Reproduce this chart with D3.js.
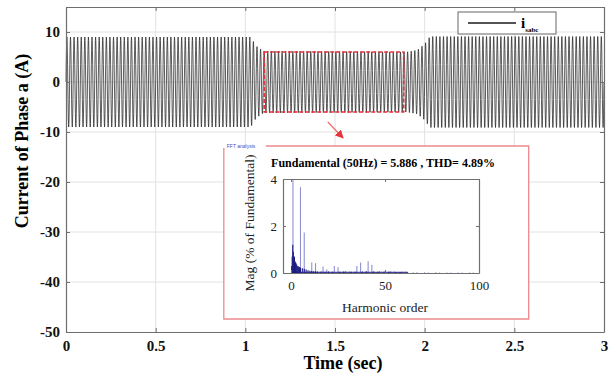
<!DOCTYPE html>
<html>
<head>
<meta charset="utf-8">
<script src="https://cdn.jsdelivr.net/npm/d3@7"></script>
<style>
  body { margin: 0; background: #fff; }
  svg { display: block; }
  text { font-family: "Liberation Serif", "Times New Roman", serif; }
</style>
</head>
<body>
<div id="chart"></div>
<script>
// main waveform: 50 Hz current, envelope
const fundamentalHz = 50;
const envTime = [0, 1.03, 1.06, 1.10, 1.90, 1.96, 2.00, 2.03, 3];
const envAmp  = [9, 9, 7.2, 6.2, 6.0, 6.4, 7.6, 9.1, 9.1];
const xTicks = [0, 0.5, 1, 1.5, 2, 2.5, 3];
const yTicks = [-50, -40, -30, -20, -10, 0, 10];

// FFT inset
const harmOrders = [1, 5, 7, 11, 13, 17, 19, 23, 25, 29, 31, 35, 37, 41, 43, 47, 49, 53, 55, 59, 61, 65, 67, 71, 73, 77, 79, 83, 85, 89, 91, 95, 97];
const harmMag    = [100, 3.65, 1.72, 0.45, 0.42, 0.28, 0.15, 0.3, 0.25, 0.08, 0.06, 0.3, 0.45, 0.5, 0.35, 0.08, 0.05, 0.07, 0.06, 0.05, 0.05, 0.03, 0.03, 0.03, 0.02, 0.03, 0.02, 0.02, 0.02, 0.02, 0.02, 0.02, 0.02];
const interOrders = [0.3, 0.6, 0.9, 1.2, 1.5, 1.8, 2.1, 2.4, 2.7, 3, 3.5, 4, 4.5, 5, 6, 7, 8, 9, 10, 11, 12, 13, 14, 16, 18, 20, 22, 26, 28, 32, 34, 38, 40, 44, 46, 50, 52, 56, 58, 62];
const interMag    = [0.3, 0.7, 1.2, 0.9, 0.6, 0.7, 0.5, 0.45, 0.4, 0.35, 0.3, 0.28, 0.25, 0.22, 0.2, 0.18, 0.15, 0.12, 0.1, 0.08, 0.07, 0.07, 0.06, 0.06, 0.05, 0.06, 0.05, 0.05, 0.06, 0.05, 0.05, 0.06, 0.07, 0.06, 0.05, 0.06, 0.05, 0.04, 0.04, 0.03];
const fftXTicks = [0, 50, 100];
const fftYTicks = [0, 2, 4];
const fftTitle = 'Fundamental (50Hz) = 5.886 , THD= 4.89%';

const W = 610, H = 379;
const margin = { top: 7, right: 6, bottom: 47, left: 66 };
const innerW = W - margin.left - margin.right;
const innerH = H - margin.top - margin.bottom;
const plain = d => String(d);   // keep ASCII hyphen like the original figure

const svg = d3.select('#chart').append('svg')
  .attr('width', W)
  .attr('height', H);

const g = svg.append('g')
  .attr('transform', `translate(${margin.left},${margin.top})`);

const x = d3.scaleLinear().domain([0, 3]).range([0, innerW]);
const y = d3.scaleLinear().domain([-50, 15]).range([innerH, 0]);

// gridlines
const grid = g.append('g').classed('gridlines', true);
grid.selectAll('line.gx').data(xTicks.slice(1, -1)).join('line')
  .attr('x1', d => x(d)).attr('x2', d => x(d))
  .attr('y1', 0).attr('y2', innerH)
  .style('stroke', '#e2e2e2').style('stroke-width', 1);
grid.selectAll('line.gy').data(yTicks.slice(1)).join('line')
  .attr('x1', 0).attr('x2', innerW)
  .attr('y1', d => y(d)).attr('y2', d => y(d))
  .style('stroke', '#e2e2e2').style('stroke-width', 1);

// waveform
const env = d3.scaleLinear().domain(envTime).range(envAmp);
const stepsPerCycle = 16;
const nPts = Math.round(3 * fundamentalHz * stepsPerCycle);
const wave = d3.range(nPts + 1).map(i => {
  const t = i * 3 / nPts;
  return [t, env(t) * Math.sin(2 * Math.PI * fundamentalHz * t)];
});
const lineFn = d3.line().x(d => x(d[0])).y(d => y(d[1]));
g.append('path')
  .datum(wave)
  .attr('d', lineFn)
  .style('fill', 'none')
  .style('stroke', '#262626')
  .style('stroke-width', 0.75);

// red dashed selection
g.append('rect')
  .attr('x', x(1.105)).attr('y', y(6))
  .attr('width', x(1.883) - x(1.105)).attr('height', y(-6) - y(6))
  .style('fill', 'none')
  .style('stroke', '#e8323c')
  .style('stroke-width', 1.6)
  .style('stroke-dasharray', '4,2');

// arrow
svg.append('defs').append('marker')
  .attr('id', 'ah').attr('viewBox', '0 0 10 10')
  .attr('refX', 9).attr('refY', 5)
  .attr('markerWidth', 7).attr('markerHeight', 7)
  .attr('orient', 'auto')
  .append('path').attr('d', 'M0,0 L10,5 L0,10 z').style('fill', '#e8323c');
g.append('line')
  .attr('x1', x(1.46)).attr('y1', y(-8))
  .attr('x2', x(1.545)).attr('y2', y(-11.2))
  .style('stroke', '#ef6a70').style('stroke-width', 1.2)
  .attr('marker-end', 'url(#ah)');

// axes (box with inward ticks)
const axColor = '#6e6e6e';
const axisB = d3.axisBottom(x).tickValues(xTicks).tickSizeInner(-4).tickSizeOuter(0).tickFormat(plain);
const axisL = d3.axisLeft(y).tickValues(yTicks).tickSizeInner(-4).tickSizeOuter(0).tickFormat(plain);
const axisT = d3.axisTop(x).tickValues(xTicks).tickSizeInner(-4).tickSizeOuter(0).tickFormat('');
const axisR = d3.axisRight(y).tickValues(yTicks).tickSizeInner(-4).tickSizeOuter(0).tickFormat('');

function styleAxis(sel) {
  sel.select('.domain').style('stroke', axColor).style('stroke-width', 1.2);
  sel.selectAll('.tick line').style('stroke', axColor);
  sel.selectAll('.tick text')
    .style('font-family', '"Liberation Serif", serif')
    .style('font-weight', 'bold')
    .style('font-size', '15px')
    .style('fill', '#111');
}

g.append('g').attr('transform', `translate(0,${innerH})`).call(axisB).call(styleAxis)
  .selectAll('.tick text').attr('dy', '1.05em');
g.append('g').call(axisL).call(styleAxis)
  .selectAll('.tick text').attr('x', -6);
g.append('g').call(axisT).call(styleAxis);
g.append('g').attr('transform', `translate(${innerW},0)`).call(axisR).call(styleAxis);

// axis labels
svg.append('text')
  .attr('x', 343).attr('y', 369)
  .attr('text-anchor', 'middle')
  .style('font-weight', 'bold').style('font-size', '18px')
  .text('Time (sec)');
svg.append('text')
  .attr('transform', 'translate(28,141) rotate(-90)')
  .attr('text-anchor', 'middle')
  .style('font-weight', 'bold').style('font-size', '18px')
  .text('Current of Phase a (A)');

// legend
const leg = svg.append('g').attr('transform', 'translate(458,12)');
leg.append('rect').attr('width', 98).attr('height', 22)
  .style('fill', '#fff').style('stroke', '#666').style('stroke-width', 1);
leg.append('line').attr('x1', 10).attr('x2', 58).attr('y1', 11).attr('y2', 11)
  .style('stroke', '#1a1a1a').style('stroke-width', 1.5);
const legText = leg.append('text').attr('x', 63).attr('y', 16)
  .style('font-weight', 'bold').style('font-size', '15px');
legText.append('tspan').text('i');
legText.append('tspan').attr('dy', 4).style('font-size', '7px').text('sabc');

// ---------- FFT inset ----------
const box = { x0: x(0.88), x1: x(2.58), y0: y(-12.8), y1: y(-47.4) };
const inset = g.append('g').classed('fft-inset', true);
inset.append('rect')
  .attr('x', box.x0).attr('y', box.y0)
  .attr('width', box.x1 - box.x0).attr('height', box.y1 - box.y0)
  .style('fill', '#fff').style('stroke', 'none');
// red frame (top edge broken by caption)
const frameColor = '#ec8a8f';
inset.append('path')
  .attr('d', `M${box.x0 + 42},${box.y0} H${box.x1} V${box.y1} H${box.x0} V${box.y0 + 2}`)
  .style('fill', 'none').style('stroke', frameColor).style('stroke-width', 1.3);
inset.append('text')
  .attr('x', box.x0 + 3).attr('y', box.y0 + 2)
  .style('font-family', 'Arial, sans-serif').style('font-size', '5px').style('fill', '#3b4fc8')
  .text('FFT analysis');

const fx = d3.scaleLinear().domain([-4.3, 100]).range([283 - margin.left, 479 - margin.left]);
const fy = d3.scaleLinear().domain([0, 4]).range([273 - margin.top, 179 - margin.top]);

inset.append('text')
  .attr('x', 383 - margin.left).attr('y', 167 - margin.top)
  .attr('text-anchor', 'middle')
  .style('font-weight', 'bold').style('font-size', '12px')
  .text(fftTitle);

inset.append('clipPath').attr('id', 'fftclip')
  .append('rect')
  .attr('x', fx.range()[0]).attr('y', fy.range()[1])
  .attr('width', fx.range()[1] - fx.range()[0]).attr('height', fy.range()[0] - fy.range()[1]);

const bars = inset.append('g').attr('clip-path', 'url(#fftclip)');
bars.selectAll('line.h').data(harmOrders.map((o, i) => [o, harmMag[i]])).join('line')
  .attr('x1', d => fx(d[0])).attr('x2', d => fx(d[0]))
  .attr('y1', fy(0)).attr('y2', d => fy(d[1]))
  .style('stroke', '#8f8fd6').style('stroke-width', 1.1);
bars.selectAll('line.ih').data(interOrders.map((o, i) => [o, interMag[i]])).join('line')
  .attr('x1', d => fx(d[0])).attr('x2', d => fx(d[0]))
  .attr('y1', fy(0)).attr('y2', d => fy(d[1]))
  .style('stroke', '#1c1c82').style('stroke-width', 1.1);
bars.append('line')
  .attr('x1', fx(0)).attr('x2', fx(62)).attr('y1', fy(0.03)).attr('y2', fy(0.03))
  .style('stroke', '#1c1c82').style('stroke-width', 1);

const fAx = '#707070';
function styleFft(sel) {
  sel.select('.domain').style('stroke', fAx).style('stroke-width', 1.2);
  sel.selectAll('.tick line').style('stroke', fAx);
  sel.selectAll('.tick text')
    .style('font-family', '"Liberation Serif", serif')
    .style('font-size', '13px')
    .style('fill', '#222');
}
inset.append('g').attr('transform', `translate(0,${fy(0)})`)
  .call(d3.axisBottom(fx).tickValues(fftXTicks).tickSizeInner(-3).tickSizeOuter(0).tickFormat(plain))
  .call(styleFft).selectAll('.tick text').attr('dy', '1.1em');
inset.append('g').attr('transform', `translate(${fx.range()[0]},0)`)
  .call(d3.axisLeft(fy).tickValues(fftYTicks).tickSizeInner(-3).tickSizeOuter(0).tickFormat(plain))
  .call(styleFft).selectAll('.tick text').attr('x', -6);
inset.append('g').attr('transform', `translate(0,${fy(4)})`)
  .call(d3.axisTop(fx).tickValues(fftXTicks).tickSizeInner(-3).tickSizeOuter(0).tickFormat(''))
  .call(styleFft);
inset.append('g').attr('transform', `translate(${fx.range()[1]},0)`)
  .call(d3.axisRight(fy).tickValues(fftYTicks).tickSizeInner(-3).tickSizeOuter(0).tickFormat(''))
  .call(styleFft);

inset.append('text')
  .attr('x', 385 - margin.left).attr('y', 312 - margin.top)
  .attr('text-anchor', 'middle')
  .style('font-size', '13.5px').style('fill', '#222')
  .text('Harmonic order');
inset.append('text')
  .attr('transform', `translate(${254 - margin.left},${223 - margin.top}) rotate(-90)`)
  .attr('text-anchor', 'middle')
  .style('font-size', '13.5px').style('fill', '#222')
  .text('Mag (% of Fundamental)');
</script>
</body>
</html>
